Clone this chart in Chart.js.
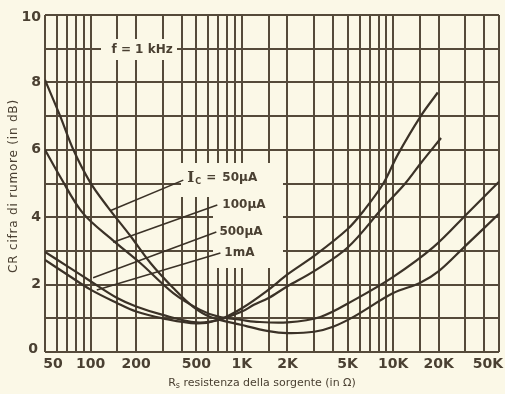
<!DOCTYPE html>
<html>
<head>
<meta charset="utf-8">
<script src="https://cdn.jsdelivr.net/npm/chart.js@4.4.1/dist/chart.umd.min.js"></script>
<style>
html, body { margin: 0; padding: 0; background: #fbf8e7; }
#wrap { width: 505px; height: 394px; position: relative; }
</style>
</head>
<body>
<div id="wrap"><canvas id="myChart"></canvas></div>
<script>
// x axis: source resistance (ohm), log scale
const xGridVals = [50, 60, 70, 80, 90, 100, 150, 200, 300, 400, 500, 600, 700, 800, 900,
  1000, 1500, 2000, 3000, 4000, 5000, 6000, 7000, 8000, 9000, 10000, 15000, 20000, 30000, 40000, 50000];
const xTickVals = [50, 100, 200, 500, 1000, 2000, 5000, 10000, 20000, 50000];
const xTickLabels = ['50', '100', '200', '500', '1K', '2K', '5K', '10K', '20K', '50K'];
// y axis: noise figure (dB)
const yGridVals = [0, 1, 2, 3, 4, 5, 6, 7, 8, 9, 10];
const yTickVals = [0, 2, 4, 6, 8, 10];

// curves
const rs50uA = [50, 63, 77, 99, 130, 183, 248, 352, 477, 620, 1000, 1500, 2000, 3000, 4000, 5500, 10000, 15000, 20000, 30000, 50000];
const nf50uA = [8.07, 7.0, 6.0, 5.05, 4.3, 3.45, 2.65, 1.9, 1.34, 1.04, 0.8, 0.62, 0.56, 0.6, 0.75, 1.05, 1.75, 2.05, 2.4, 3.15, 4.1];

const rs100uA = [50, 63, 89, 140, 213, 352, 531, 700, 1000, 1200, 2000, 3300, 5500, 10000, 18500, 31000, 50000];
const nf100uA = [6.0, 5.2, 4.12, 3.32, 2.64, 1.75, 1.25, 1.05, 0.95, 0.9, 0.88, 1.04, 1.54, 2.23, 3.12, 4.12, 5.05];

const rs500uA = [50, 70, 100, 150, 200, 300, 500, 700, 1000, 1200, 1500, 2000, 3000, 5000, 8600, 12000, 15200, 20700];
const nf500uA = [2.97, 2.55, 2.1, 1.6, 1.35, 1.1, 0.88, 0.95, 1.2, 1.4, 1.6, 1.95, 2.4, 3.1, 4.3, 5.0, 5.6, 6.35];

const rs1mA = [50, 70, 100, 150, 200, 300, 500, 700, 1000, 1500, 2000, 3000, 5000, 6400, 8600, 10700, 15200, 19700];
const nf1mA = [2.73, 2.3, 1.85, 1.45, 1.2, 1.0, 0.85, 0.95, 1.3, 1.85, 2.3, 2.85, 3.65, 4.2, 5.0, 5.85, 7.0, 7.7];

const curveLabels = ['50µA', '100µA', '500µA', '1mA'];
// leader lines: from label to curve
const leaderRsFrom = [410, 688, 678, 721];
const leaderNfFrom = [5.1, 4.36, 3.56, 2.94];
const leaderRsTo = [136, 141, 104, 110];
const leaderNfTo = [4.2, 3.26, 2.2, 1.84];

const ink = '#4a4032';
const paper = '#fbf8e7';

function pts(xs, ys) {
  return xs.map((x, i) => ({x: x, y: ys[i]}));
}

const datasets = [
  {data: pts(rs50uA, nf50uA)},
  {data: pts(rs100uA, nf100uA)},
  {data: pts(rs500uA, nf500uA)},
  {data: pts(rs1mA, nf1mA)}
].map(d => Object.assign(d, {borderColor: '#3b3227', borderWidth: 2.2, tension: 0.35, pointRadius: 0, fill: false}));

leaderRsFrom.forEach((r, i) => {
  datasets.push({
    data: [{x: r, y: leaderNfFrom[i]}, {x: leaderRsTo[i], y: leaderNfTo[i]}],
    borderColor: '#3b3227', borderWidth: 1.6, tension: 0, pointRadius: 0
  });
});

const paperPlugin = {
  id: 'paper',
  beforeDraw(chart) {
    const c = chart.ctx;
    c.save();
    c.fillStyle = paper;
    c.fillRect(0, 0, chart.width, chart.height);
    c.restore();
  },
  beforeDatasetsDraw(chart) {
    // blank patches in the grid behind the annotations
    const xs = chart.scales.x, ys = chart.scales.y, c = chart.ctx;
    const box = (r1, r2, v1, v2) => {
      const x1 = Math.round(xs.getPixelForValue(r1)), x2 = Math.round(xs.getPixelForValue(r2));
      const y1 = Math.round(ys.getPixelForValue(v1)), y2 = Math.round(ys.getPixelForValue(v2));
      c.fillRect(x1, y1, x2 - x1, y2 - y1);
    };
    c.save();
    c.fillStyle = paper;
    box(398, 1880, 5.61, 4.6);
    box(648, 1880, 4.75, 2.49);
    box(118, 372, 9.28, 8.66);
    c.restore();
  },
  afterDraw(chart) {
    const xs = chart.scales.x, ys = chart.scales.y, c = chart.ctx;
    const area = chart.chartArea;
    c.save();
    c.fillStyle = ink;
    // x tick labels
    c.font = 'bold 14px "DejaVu Sans"';
    c.textAlign = 'center';
    c.textBaseline = 'middle';
    xTickVals.forEach((v, i) => {
      let px = xs.getPixelForValue(v);
      if (i === 0) px += 8;
      if (i === xTickVals.length - 1) px -= 11;
      c.fillText(xTickLabels[i], px, area.bottom + 12);
    });
    // y tick labels
    c.textAlign = 'right';
    yTickVals.forEach(v => {
      let py = ys.getPixelForValue(v);
      let px = area.left - 4;
      if (v === 0) { py -= 3; px -= 3; }
      if (v === 10) { py += 2; }
      c.fillText(String(v), px, py);
    });
    // y title
    c.save();
    c.translate(14, 186);
    c.rotate(-Math.PI / 2);
    c.textAlign = 'center';
    c.font = '12px "DejaVu Sans"';
    c.letterSpacing = '0.8px';
    c.fillText('CR cifra di rumore (in dB)', 0, 0);
    c.restore();
    // x title with subscript
    c.textAlign = 'left';
    c.font = '11px "DejaVu Sans"';
    const rest = ' resistenza della sorgente (in Ω)';
    const wR = c.measureText('R').width;
    c.font = '8px "DejaVu Sans"';
    const wS = c.measureText('s').width;
    c.font = '11px "DejaVu Sans"';
    const wRest = c.measureText(rest).width;
    let tx = 262 - (wR + wS + wRest) / 2;
    c.fillText('R', tx, 383);
    c.font = '8px "DejaVu Sans"';
    c.fillText('s', tx + wR, 386);
    c.font = '11px "DejaVu Sans"';
    c.fillText(rest, tx + wR + wS, 383);
    // f = 1 kHz
    c.textAlign = 'center';
    c.font = 'bold 12px "DejaVu Sans"';
    c.fillText('f = 1 kHz', xs.getPixelForValue(219), ys.getPixelForValue(8.96));
    // curve labels
    c.textAlign = 'left';
    const lx = xs.getPixelForValue(436), ly = ys.getPixelForValue(5.16);
    c.font = 'bold 15px "DejaVu Serif"';
    c.fillText('I', lx, ly);
    const wI = c.measureText('I').width;
    c.font = 'bold 8px "DejaVu Sans"';
    c.fillText('C', lx + wI + 1, ly + 4);
    c.font = 'bold 12px "DejaVu Sans"';
    const lx2 = xs.getPixelForValue(743);
    c.fillText('=', lx2 - 16, ly);
    c.fillText(curveLabels[0], lx2, ly);
    c.fillText(curveLabels[1], lx2, ys.getPixelForValue(4.36));
    c.fillText(curveLabels[2], xs.getPixelForValue(710), ys.getPixelForValue(3.56));
    c.fillText(curveLabels[3], xs.getPixelForValue(766), ys.getPixelForValue(2.94));
    c.restore();
  }
};

const gridOpts = {color: '#554a3a', lineWidth: 2, drawTicks: false};

new Chart(document.getElementById('myChart').getContext('2d'), {
  type: 'line',
  data: {datasets: datasets},
  options: {
    responsive: true,
    maintainAspectRatio: false,
    animation: false,
    devicePixelRatio: 1,
    layout: {padding: {left: 45, right: 6, top: 15, bottom: 42}},
    plugins: {legend: {display: false}, tooltip: {enabled: false}},
    scales: {
      x: {
        type: 'logarithmic', min: 50, max: 50000,
        afterBuildTicks: s => { s.ticks = xGridVals.map(v => ({value: v})); },
        ticks: {display: false},
        grid: gridOpts,
        border: {display: false}
      },
      y: {
        type: 'linear', min: 0, max: 10,
        afterBuildTicks: s => { s.ticks = yGridVals.map(v => ({value: v})); },
        ticks: {display: false},
        grid: gridOpts,
        border: {display: false}
      }
    }
  },
  plugins: [paperPlugin]
});
</script>
</body>
</html>
